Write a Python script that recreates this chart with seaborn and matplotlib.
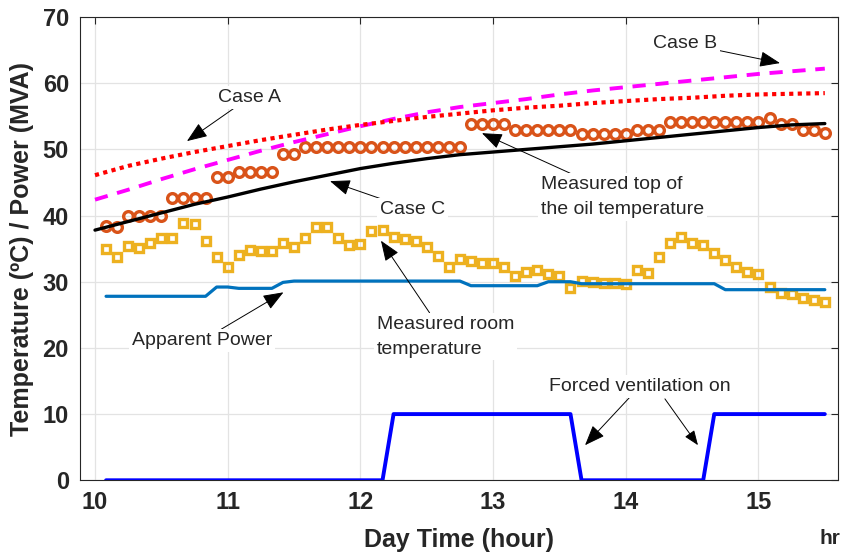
import numpy as np
import pandas as pd
import matplotlib
matplotlib.use("Agg")
import matplotlib.pyplot as plt
import seaborn as sns

# Measurement instants: every 5 minutes from 10:05 to 15:30
minutes = np.arange(5, 335, 5)
hours = 10 + minutes / 60.0

top_oil = [38.4, 38.2, 40.0, 40.0, 40.0, 40.0, 42.6, 42.6, 42.6, 42.6,
           45.8, 45.8, 46.6, 46.6, 46.6, 46.6, 49.3, 49.3,
           50.4, 50.4, 50.4, 50.4, 50.4, 50.4, 50.4, 50.4, 50.4, 50.4,
           50.4, 50.4, 50.4, 50.4, 50.4,
           53.8, 53.8, 53.8, 53.8,
           52.9, 52.9, 52.9, 52.9, 52.9, 52.9,
           52.3, 52.3, 52.3, 52.3, 52.3,
           52.9, 52.9, 52.9,
           54.2, 54.2, 54.2, 54.2, 54.2, 54.2, 54.2, 54.2, 54.2,
           54.8, 53.8, 53.8, 52.9, 52.9, 52.5]

room_temp = [34.9, 33.7, 35.4, 35.1, 35.9, 36.6, 36.6, 38.8, 38.7, 36.2,
             33.8, 32.2, 34.0, 34.8, 34.7, 34.7, 35.8, 35.2, 36.6, 38.3,
             38.2, 36.6, 35.6, 35.7, 37.6, 37.8, 36.7, 36.4, 36.2, 35.2,
             33.9, 32.3, 33.5, 33.1, 32.8, 32.8, 32.2, 30.9, 31.4, 31.8,
             31.2, 30.9, 29.1, 30.1, 29.9, 29.8, 29.8, 29.6, 31.7, 31.3,
             33.8, 35.9, 36.8, 35.9, 35.5, 34.3, 33.3, 32.3, 31.4, 31.1,
             29.2, 28.3, 28.1, 27.6, 27.2, 27.0]

apparent_power = ([27.8] * 10 + [29.2] * 2 + [29.0] * 4 + [29.9] + [30.1] * 16
                  + [29.4] * 7 + [30.0] * 3 + [29.7] * 13 + [28.8] * 10)

ventilation = [0] * 26 + [10] * 17 + [0] * 12 + [10] * 11

# Thermal model outputs
model_hours = [10.0, 10.25, 10.5, 10.75, 11.0, 11.25, 11.5, 11.75, 12.0, 12.25,
               12.5, 12.75, 13.0, 13.25, 13.5, 13.75, 14.0, 14.25, 14.5, 14.75,
               15.0, 15.25, 15.5]
case_a = [46.1, 47.5, 48.6, 49.6, 50.5, 51.4, 52.2, 53.0, 53.7, 54.3,
          54.9, 55.4, 55.9, 56.3, 56.6, 57.0, 57.3, 57.6, 57.8, 58.1,
          58.3, 58.4, 58.5]
case_b = [42.4, 43.9, 45.5, 47.0, 48.4, 49.8, 51.1, 52.3, 53.5, 54.6,
          55.6, 56.4, 57.0, 57.6, 58.3, 58.9, 59.4, 59.9, 60.4, 60.9,
          61.4, 61.8, 62.2]
case_c = [37.8, 39.1, 40.4, 41.7, 42.8, 44.0, 45.1, 46.1, 47.1, 47.9,
          48.6, 49.2, 49.6, 50.0, 50.4, 50.8, 51.3, 51.8, 52.3, 52.8,
          53.3, 53.7, 53.9]

x_ticks = [10, 11, 12, 13, 14, 15]
y_ticks = [0, 10, 20, 30, 40, 50, 60, 70]

meas = pd.DataFrame({"hour": hours, "top_oil": top_oil, "room": room_temp,
                     "power": apparent_power, "vent": ventilation})
model = pd.DataFrame({"hour": model_hours, "A": case_a, "B": case_b, "C": case_c})

sns.set_style("white")
plt.rcParams["font.family"] = ["Liberation Sans", "DejaVu Sans"]

fig = plt.figure(figsize=(8.44, 5.56), dpi=100)
ax = fig.add_axes([0.0948, 0.1362, 0.8982, 0.8332])

sns.lineplot(data=meas, x="hour", y="room", ax=ax, linestyle="", marker="s",
             markersize=6.4, markerfacecolor="none", markeredgecolor="#EDB120",
             markeredgewidth=2.4, zorder=3)
sns.lineplot(data=meas, x="hour", y="top_oil", ax=ax, linestyle="", marker="o",
             markersize=7.0, markerfacecolor="none", markeredgecolor="#D95319",
             markeredgewidth=2.4, zorder=3)
sns.lineplot(data=meas, x="hour", y="power", ax=ax, color="#0072BD", lw=2.3, zorder=4)
sns.lineplot(data=meas, x="hour", y="vent", ax=ax, color="#0000FF", lw=2.8, zorder=4)
sns.lineplot(data=model, x="hour", y="B", ax=ax, color="#FF00FF", lw=2.8, zorder=5)
ax.lines[-1].set_dashes([3.4, 2.5])
sns.lineplot(data=model, x="hour", y="A", ax=ax, color="#FF0000", lw=3.0, zorder=5)
ax.lines[-1].set_dashes([1, 1.05])
sns.lineplot(data=model, x="hour", y="C", ax=ax, color="black", lw=2.4, zorder=6)

ax.set_xlim(9.887, 15.6)
ax.set_ylim(0, 70)
ax.set_xticks(x_ticks)
ax.set_yticks(y_ticks)
ax.set_xticklabels([str(v) for v in x_ticks], fontsize=17, fontweight="bold")
ax.set_yticklabels([str(v) for v in y_ticks], fontsize=17, fontweight="bold")
ax.tick_params(direction="in", top=True, right=True, length=5, width=0.8,
               colors="#262626", pad=8)
ax.grid(True, color="#e3e3e3", lw=0.9)
ax.set_axisbelow(True)
for s in ax.spines.values():
    s.set_color("#262626")
    s.set_linewidth(0.8)

ax.set_xlabel("Day Time (hour)", fontsize=18, fontweight="bold", labelpad=10)
ax.set_ylabel("Temperature (ºC) / Power (MVA)", fontsize=18, fontweight="bold", labelpad=6)
fig.text(0.983, 0.032, "hr", fontsize=15, fontweight="bold", ha="center", va="center")

box = dict(boxstyle="square,pad=0.15", fc="white", ec="none")
arrow = dict(arrowstyle="-|>,head_length=0.9,head_width=0.35", color="black",
             lw=0.7, shrinkA=0, shrinkB=0)


def note(text, xy, xytext, ha="center", va="center"):
    ax.annotate(text, xy=xy, xytext=xytext, textcoords="data", fontsize=14,
                ha=ha, va=va, bbox=box, arrowprops=arrow, zorder=8,
                linespacing=1.6)


note("Case A", (10.693, 51.25), (11.168, 57.9))
note("Case B", (15.162, 63.04), (14.446, 66.0))
note("Case C", (11.771, 45.2), (12.396, 40.86))
note("Measured top of\nthe oil temperature", (12.916, 52.45), (13.361, 42.8), ha="left")
note("Measured room\ntemperature", (12.155, 36.2), (12.125, 21.7), ha="left")
note("Apparent Power", (11.42, 28.4), (10.806, 21.1))
ax.annotate("Forced ventilation on", xy=(13.693, 5.3), xytext=(14.107, 14.2),
            fontsize=14, ha="center", va="center", bbox=box, arrowprops=arrow, zorder=8)
ax.annotate("", xy=(14.544, 5.3), xytext=(14.295, 12.3), arrowprops=arrow, zorder=8)

fig.savefig("out.png", dpi=100)
